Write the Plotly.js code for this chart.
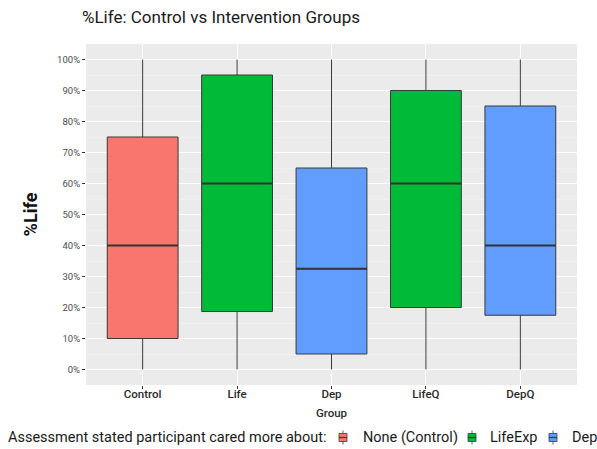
<!DOCTYPE html>
<html><head><meta charset="utf-8">
<script src="https://cdn.plot.ly/plotly-3.0.1.min.js"></script>
<style>body{margin:0;padding:0;background:#fff}#chart{width:597px;height:449px}</style>
</head><body><div id="chart"></div>
<script>
const groups = ["Control", "Life", "Dep", "LifeQ", "DepQ"];
const assessment = ["None (Control)", "LifeExp", "Dep", "LifeExp", "Dep"];
const lowerWhisker = [0, 0, 0, 0, 0];
const q1 = [0.10, 0.187, 0.05, 0.20, 0.175];
const median = [0.40, 0.60, 0.325, 0.60, 0.40];
const q3 = [0.75, 0.95, 0.65, 0.90, 0.85];
const upperWhisker = [1, 1, 1, 1, 1];
const legendNames = ["None (Control)", "LifeExp", "Dep"];
const legendTitle = "Assessment stated participant cared more about:";
const fillColors = {"None (Control)": "#F8766D", "LifeExp": "#00BA38", "Dep": "#619CFF"};

const W = 597, H = 449;
const M = {l: 86, r: 20, t: 44, b: 64};
const PW = W - M.l - M.r, PH = H - M.t - M.b;
const px = x => (x - M.l) / PW;
const py = y => (H - M.b - y) / PH;
const BOXW = 0.75;

const traces = legendNames.map(name => {
  const idx = groups.map((g, i) => i).filter(i => assessment[i] === name);
  return {
    type: "box",
    name: name,
    x: idx.map(i => groups[i]),
    q1: idx.map(i => q1[i]),
    median: idx.map(i => median[i]),
    q3: idx.map(i => q3[i]),
    lowerfence: idx.map(i => lowerWhisker[i]),
    upperfence: idx.map(i => upperWhisker[i]),
    fillcolor: fillColors[name],
    line: {color: "#3a3a3a", width: 1},
    width: BOXW,
    whiskerwidth: 0,
    boxpoints: false,
    hoverinfo: "skip",
    showlegend: false
  };
});

const shapes = [];
// thicker median lines (ggplot fatten), positioned via the category axis
groups.forEach((g, i) => {
  shapes.push({type: "line", xref: "x", yref: "y", x0: i - BOXW/2, x1: i + BOXW/2, y0: median[i], y1: median[i],
    line: {color: "#333333", width: 2}});
});

// manual ggplot-style legend (keys + labels)
const legendFont = {family: "Roboto, sans-serif", size: 14.5, color: "#1a1a1a"};
const legendY = 437.5;
const keyX = [339, 468, 549];
const labelX = [361, 488, 570];
const KW = 8;
const annotations = [{
  xref: "paper", yref: "paper", x: px(6), y: py(legendY), xanchor: "left", yanchor: "middle",
  text: legendTitle, showarrow: false, font: legendFont
}];
legendNames.forEach((name, k) => {
  const x0 = keyX[k];
  shapes.push({type: "line", xref: "paper", yref: "paper", x0: px(x0 + KW/2), x1: px(x0 + KW/2), y0: py(legendY - 7), y1: py(legendY + 7), line: {color: "#3a3a3a", width: 0.8}});
  shapes.push({type: "rect", xref: "paper", yref: "paper", x0: px(x0), x1: px(x0 + KW), y0: py(legendY - 4), y1: py(legendY + 4), fillcolor: fillColors[name], line: {color: "#3a3a3a", width: 0.8}});
  shapes.push({type: "line", xref: "paper", yref: "paper", x0: px(x0), x1: px(x0 + KW), y0: py(legendY), y1: py(legendY), line: {color: "#3a3a3a", width: 1.2}});
  annotations.push({xref: "paper", yref: "paper", x: px(labelX[k]), y: py(legendY), xanchor: "left", yanchor: "middle",
    text: name, showarrow: false, font: legendFont});
});

const layout = {
  width: W, height: H,
  margin: M,
  paper_bgcolor: "#ffffff",
  plot_bgcolor: "#EBEBEB",
  font: {family: "Roboto, sans-serif", color: "#222"},
  title: {text: "%Life: Control vs Intervention Groups", x: 82/W, xanchor: "left", y: 1 - 17/H, yanchor: "middle",
          font: {size: 17, color: "#1a1a1a", family: "Roboto, sans-serif"}},
  boxmode: "overlay",
  showlegend: false,
  shapes: shapes,
  annotations: annotations,
  xaxis: {
    type: "category", categoryorder: "array", categoryarray: groups,
    range: [-0.6, 4.6], automargin: false,
    showgrid: true, gridcolor: "#ffffff", gridwidth: 1.1,
    zeroline: false, showline: false,
    ticks: "outside", ticklen: 3, tickcolor: "#333",
    ticklabelstandoff: -5,
    tickfont: {size: 11.5, color: "#2a2a2a", family: "Roboto, sans-serif", weight: 500},
    title: {text: "Group", font: {size: 11.5, color: "#2a2a2a", weight: 500}, standoff: 9}
  },
  yaxis: {
    range: [-0.05, 1.05], automargin: false,
    tickvals: [0,0.1,0.2,0.3,0.4,0.5,0.6,0.7,0.8,0.9,1],
    tickformat: ".0%",
    showgrid: true, gridcolor: "#ffffff", gridwidth: 1.1,
    minor: {dtick: 0.05, tick0: 0.05, showgrid: true, gridcolor: "#F5F5F5", gridwidth: 0.6},
    zeroline: false, showline: false,
    ticks: "outside", ticklen: 3, tickcolor: "#333",
    tickfont: {size: 9.5, color: "#4D4D4D"},
    title: {text: "%Life", font: {size: 18, color: "#111", weight: 700}, standoff: 14}
  }
};
Plotly.newPlot("chart", traces, layout, {displayModeBar: false, staticPlot: true});
</script></body></html>
